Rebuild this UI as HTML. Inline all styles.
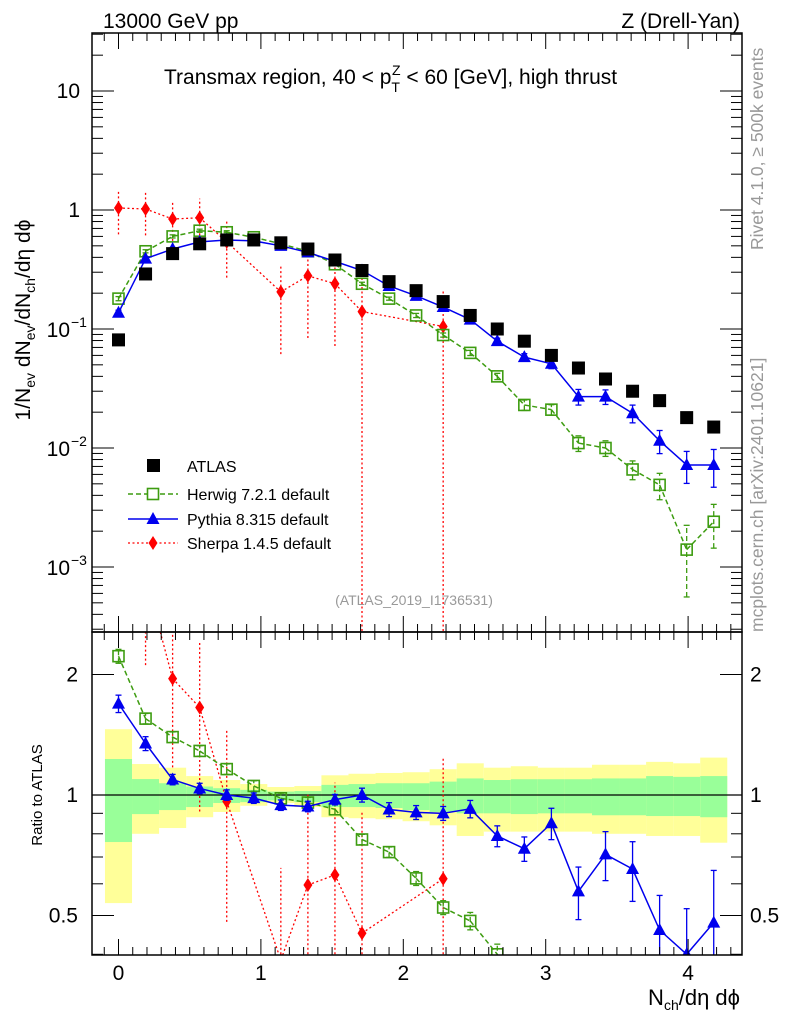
<!DOCTYPE html>
<html><head><meta charset="utf-8"><style>
html,body{margin:0;background:#fff;width:786px;height:1024px;overflow:hidden;}
#wrap{position:relative;width:786px;height:1024px;overflow:hidden;}
svg{display:block;font-family:"Liberation Sans",sans-serif;}
</style></head><body>
<div id="wrap">
<svg id="c" width="786" height="1024" style="position:absolute;left:0;top:0"></svg>
<svg width="786" height="1024" style="position:absolute;left:0;top:0" font-family="Liberation Sans, sans-serif">
<text x="103" y="28" font-size="21">13000 GeV pp</text>
<text x="740" y="28" font-size="21" text-anchor="end">Z (Drell-Yan)</text>
<text x="164" y="84" font-size="21">Transmax region, 40 &lt; p<tspan font-size="14" dy="8">T</tspan><tspan font-size="14" dx="-8" dy="-17">Z</tspan><tspan dy="9"> &lt; 60 [GeV], high thrust</tspan></text>
<text x="414" y="605" font-size="14" fill="#999" text-anchor="middle">(ATLAS_2019_I1736531)</text>
<text transform="translate(763,250) rotate(-90)" font-size="17.5" fill="#999">Rivet 4.1.0, ≥ 500k events</text>
<text transform="translate(763,632) rotate(-90)" font-size="17.5" fill="#999">mcplots.cern.ch [arXiv:2401.10621]</text>
<text transform="translate(30,320) rotate(-90)" font-size="21" text-anchor="middle">1/N<tspan font-size="14" dy="5">ev</tspan><tspan dy="-5"> dN</tspan><tspan font-size="14" dy="5">ev</tspan><tspan dy="-5">/dN</tspan><tspan font-size="14" dy="5">ch</tspan><tspan dy="-5">/dη dϕ</tspan></text>
<text transform="translate(42,795) rotate(-90)" font-size="15" text-anchor="middle">Ratio to ATLAS</text>
<text x="740" y="1005" font-size="22" text-anchor="end">N<tspan font-size="14" dy="5">ch</tspan><tspan dy="-5">/dη dϕ</tspan></text>
<g font-size="16">
<rect x="147" y="459" width="13" height="13" fill="#000"/>
<text x="187" y="472">ATLAS</text>
<line x1="128" x2="178" y1="494" y2="494" stroke="#3d9c10" stroke-width="1.5" stroke-dasharray="5,3"/>
<rect x="147.5" y="488.5" width="11" height="11" fill="#fff" stroke="#3d9c10" stroke-width="1.6"/>
<text x="187" y="500">Herwig 7.2.1 default</text>
<line x1="128" x2="178" y1="519" y2="519" stroke="#0000ee" stroke-width="1.5"/>
<polygon points="153,512 146.5,524 159.5,524" fill="#0000ee"/>
<text x="187" y="525">Pythia 8.315 default</text>
<line x1="128" x2="178" y1="543" y2="543" stroke="#ff0000" stroke-width="1.3" stroke-dasharray="2,2.5"/>
<polygon points="153,536 148.5,543 153,550 157.5,543" fill="#ff0000"/>
<text x="187" y="549">Sherpa 1.4.5 default</text>
</g>
</svg>
</div>
<script>
const xs = [0,0.19,0.38,0.57,0.76,0.95,1.14,1.33,1.52,1.71,1.9,2.09,2.28,2.47,2.66,2.85,3.04,3.23,3.42,3.61,3.8,3.99,4.18];
const atlas = [0.081,0.29,0.43,0.52,0.56,0.56,0.53,0.47,0.38,0.31,0.25,0.21,0.17,0.13,0.10,0.079,0.060,0.047,0.038,0.030,0.025,0.018,0.015];
const herwig = [0.18,0.45,0.60,0.67,0.65,0.59,0.52,0.45,0.35,0.24,0.18,0.13,0.089,0.063,0.040,0.023,0.021,0.011,0.010,0.0066,0.0049,0.0014,0.0024];
const herwigErr = [0.04,0.03,0.03,0.03,0.03,0.03,0.03,0.03,0.03,0.03,0.03,0.04,0.04,0.05,0.06,0.1,0.1,0.15,0.15,0.18,0.25,0.6,0.4];
const pythia = [0.137,0.39,0.47,0.54,0.56,0.55,0.50,0.44,0.37,0.31,0.23,0.19,0.153,0.12,0.079,0.058,0.051,0.027,0.027,0.0196,0.0115,0.0072,0.0072];
const pythiaErr = [0.05,0.04,0.03,0.03,0.03,0.03,0.03,0.03,0.03,0.04,0.04,0.04,0.04,0.05,0.06,0.07,0.09,0.15,0.14,0.17,0.22,0.3,0.35];
const sherpaIdx = [0,1,2,3,4,6,7,8,9,12];
const sherpa = [1.04,1.02,0.84,0.86,0.54,0.205,0.28,0.24,0.14,0.105];
const sherpaErr = [0.4,0.4,0.4,0.45,0.5,0.7,0.7,0.7,1.0,1.0];
const greenHi = [1.23,1.096,1.07,1.05,1.04,1.03,1.02,1.023,1.06,1.065,1.07,1.07,1.08,1.10,1.09,1.095,1.095,1.095,1.10,1.10,1.115,1.11,1.115];
const greenLo = [0.763,0.896,0.917,0.933,0.955,0.96,0.97,0.96,0.933,0.933,0.928,0.917,0.907,0.9,0.9,0.896,0.9,0.9,0.89,0.89,0.886,0.886,0.88];
const yellowHi = [1.46,1.195,1.17,1.115,1.09,1.065,1.047,1.053,1.12,1.13,1.135,1.14,1.16,1.2,1.17,1.18,1.17,1.17,1.19,1.19,1.21,1.2,1.24];
const yellowLo = [0.537,0.80,0.827,0.88,0.907,0.94,0.955,0.933,0.88,0.875,0.87,0.86,0.84,0.79,0.81,0.81,0.81,0.81,0.80,0.80,0.79,0.79,0.76];
const xTicks = [0,1,2,3,4];

const L=92,R=742,T=33,M=632,B=955;
const X=v=>118.5+v*142.4;
const Y=v=>91-(Math.log10(v)-1)*119;
const YR=v=>795-Math.log2(v)*120.5;
const svg=document.getElementById('c');
const NS='http://www.w3.org/2000/svg';
function el(tag,attrs,parent,text){const e=document.createElementNS(NS,tag);for(const k in attrs)e.setAttribute(k,attrs[k]);if(text!==undefined)e.textContent=text;(parent||svg).appendChild(e);return e;}

const defs=el('defs',{});
const c1=el('clipPath',{id:'cm'},defs);el('rect',{x:L,y:T,width:R-L,height:M-T},c1);
const c2=el('clipPath',{id:'cr'},defs);el('rect',{x:L,y:M,width:R-L,height:B-M},c2);
const gM=el('g',{'clip-path':'url(#cm)'});


const gR=el('g',{'clip-path':'url(#cr)'});



const hw=0.095*142.4;
xs.forEach((x,i)=>{
  const y=el('rect',{x:X(x)-hw,y:YR(yellowHi[i]),width:2*hw,height:YR(yellowLo[i])-YR(yellowHi[i]),fill:'#ffff99'},gR);
  
  
  const g=el('rect',{x:X(x)-hw,y:YR(greenHi[i]),width:2*hw,height:YR(greenLo[i])-YR(greenHi[i]),fill:'#99ff99'},gR);
  
  
});
el('line',{x1:L,x2:R,y1:YR(1),y2:YR(1),stroke:'#000','stroke-width':1.2},gR);

function marker(g,type,x,y,color){
  if(y<T-10||y>B+10) return;
  let m;
  if(type==='sq') m=el('rect',{x:x-6.5,y:y-6.5,width:13,height:13,fill:'#000'},g);
  if(type==='osq') m=el('rect',{x:x-5.5,y:y-5.5,width:11,height:11,fill:'none',stroke:color,'stroke-width':1.6},g);
  if(type==='tri') m=el('polygon',{points:`${x},${y-7} ${x-6.5},${y+5} ${x+6.5},${y+5}`,fill:color},g);
  if(type==='dia') m=el('polygon',{points:`${x},${y-7} ${x-4.5},${y} ${x},${y+7} ${x+4.5},${y}`,fill:color},g);
  
  
}
// clip polyline (pixel points) to y range [y0,y1], return path d
function clipPathD(pts,y0,y1){
  let d='';
  for(let k=0;k<pts.length-1;k++){
    let [ax,ay]=pts[k],[bx,by]=pts[k+1];
    let t0=0,t1=1;const dy=by-ay;
    if(dy===0){ if(ay<y0||ay>y1) continue; }
    else{
      let ta=(y0-ay)/dy,tb=(y1-ay)/dy;if(ta>tb)[ta,tb]=[tb,ta];
      t0=Math.max(t0,ta);t1=Math.min(t1,tb);if(t0>t1) continue;
    }
    const p=[ax+(bx-ax)*t0,ay+dy*t0],q=[ax+(bx-ax)*t1,ay+dy*t1];
    d+=`M${p[0].toFixed(2)},${p[1].toFixed(2)}L${q[0].toFixed(2)},${q[1].toFixed(2)}`;
  }
  return d||'M0,0';
}
const clampR=r=>Math.min(Math.max(r,0.39),2.6);
function series(gMain,gRat,idx,vals,errs,color,dash,type,width){
  const pm=[],pr=[];
  idx.forEach((i,k)=>{pm.push([X(xs[i]),Y(vals[k])]);pr.push([X(xs[i]),YR(vals[k]/atlas[i])]);});
  const a={fill:'none',stroke:color,'stroke-width':width};if(dash)a['stroke-dasharray']=dash;
  const l1=el('path',Object.assign({d:clipPathD(pm,T,M)},a),gMain);
  
  
  const l2=el('path',Object.assign({d:clipPathD(pr,M,B)},a),gRat);
  
  
  idx.forEach((i,k)=>{
    const v=vals[k],e=errs[k],x=X(xs[i]);
    const lo=Math.max(v*(1-e),2.9e-4),hi=v*(1+e);
    const ea=Object.assign({},a,{'stroke-width':1.3});
    el('line',Object.assign({x1:x,x2:x,y1:Y(lo),y2:Y(hi)},ea),gMain);
    const r=v/atlas[i];
    const rlo=clampR(r*(1-e)),rhi=clampR(r*(1+e));
    if(rhi>rlo) el('line',Object.assign({x1:x,x2:x,y1:YR(rlo),y2:YR(rhi)},ea),gRat);
    if(!dash||dash==='5,3'){ [Y(lo),Y(hi)].forEach(yy=>el('line',{x1:x-3,x2:x+3,y1:yy,y2:yy,stroke:color,'stroke-width':1.3},gMain));
      [YR(rlo),YR(rhi)].forEach(yy=>el('line',{x1:x-3,x2:x+3,y1:yy,y2:yy,stroke:color,'stroke-width':1.3},gRat));}
    marker(gMain,type,x,Y(v),color);marker(gRat,type,x,YR(r),color);
  });
}
const allIdx=xs.map((_,i)=>i);
series(gM,gR,sherpaIdx,sherpa,sherpaErr,'#ff0000','2,2.5','dia',1.3);
series(gM,gR,allIdx,herwig,herwigErr,'#3d9c10','5,3','osq',1.5);
series(gM,gR,allIdx,pythia,pythiaErr,'#0000ee',null,'tri',1.5);
xs.forEach((x,i)=>marker(gM,'sq',X(x),Y(atlas[i])));

['main-frame','ratio-frame'].forEach((n,k)=>{const f=el('rect',{x:L,y:k?M:T,width:R-L,height:k?B-M:M-T,fill:'none',stroke:'#000','stroke-width':1.5});
  
  });
for(let v=-0.1;v<=4.35;v+=0.1){const vv=Math.round(v*10)/10;const x=X(vv);if(x<L||x>R)continue;const major=Math.abs(vv-Math.round(vv))<1e-6;const len=major?16:8;
  [T,M].forEach(y0=>el('line',{x1:x,x2:x,y1:y0,y2:y0+len,stroke:'#000'}));
  [M,B].forEach(y0=>el('line',{x1:x,x2:x,y1:y0,y2:y0-len,stroke:'#000'}));}
xTicks.forEach(v=>{const t=el('text',{x:X(v),y:980,'font-size':21,'text-anchor':'middle'},svg,String(v));
  
  });
for(let d=-4;d<=1;d++)for(let m=1;m<=9;m++){const v=m*Math.pow(10,d);const y=Y(v);if(y<T||y>M)continue;const len=m===1?22:11;
  el('line',{x1:L,x2:L+len,y1:y,y2:y,stroke:'#000'});el('line',{x1:R,x2:R-len,y1:y,y2:y,stroke:'#000'});}
[[10,'10'],[1,'1']].forEach(([v,s])=>{const t=el('text',{x:80,y:Y(v)+7,'font-size':21,'text-anchor':'end'},svg,s);
  
  });
[-1,-2,-3].forEach(e=>{const t=el('text',{x:70,y:Y(Math.pow(10,e))+8,'font-size':21,'text-anchor':'end'},svg,'10');
  
  
  const s=el('text',{x:71,y:Y(Math.pow(10,e))-2,'font-size':14,'text-anchor':'start'},svg,'−'+(-e));
  
  });
[0.4,0.5,0.6,0.7,0.8,0.9,1,2].forEach(v=>{const y=YR(v);if(y>B)return;const major=(v===0.5||v===1||v===2);const len=major?22:11;
  el('line',{x1:L,x2:L+len,y1:y,y2:y,stroke:'#000'});el('line',{x1:R,x2:R-len,y1:y,y2:y,stroke:'#000'});});
[[0.5,'0.5'],[1,'1'],[2,'2']].forEach(([v,s])=>{
  const a=el('text',{x:78,y:YR(v)+7,'font-size':21,'text-anchor':'end'},svg,s);
  
  
  const b=el('text',{x:750,y:YR(v)+7,'font-size':21,'text-anchor':'start'},svg,s);
  
  });
</script>
</body></html>
